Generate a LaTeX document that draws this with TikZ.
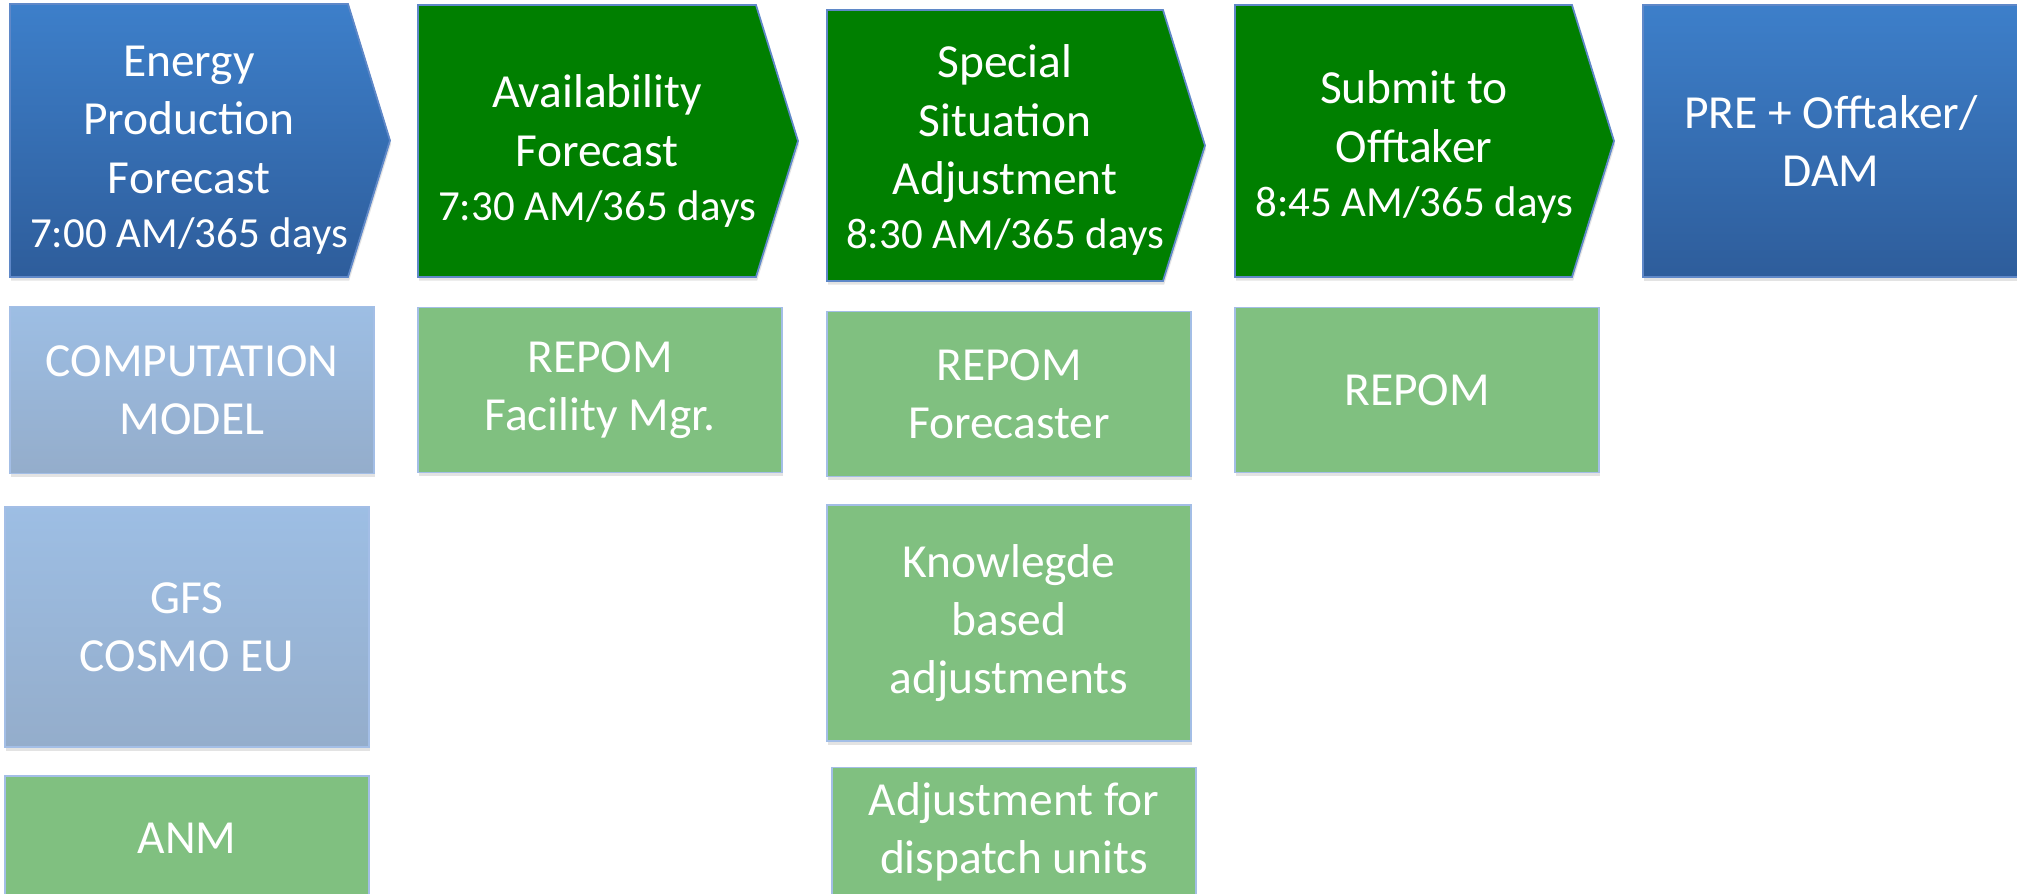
\documentclass[tikz,border=0pt]{standalone}
\usepackage{fontspec}
\setmainfont{Carlito}
\usepackage{tikz}
\usetikzlibrary{shadows}
\definecolor{Step Blue Top}{HTML}{3D7FCA}
\definecolor{Step Blue Bottom}{HTML}{2E5D9B}
\definecolor{Step Green}{HTML}{007F00}
\definecolor{Step Edge}{HTML}{5F88C8}
\definecolor{Role Blue Top}{HTML}{9DBEE4}
\definecolor{Role Blue Bottom}{HTML}{94ADCB}
\definecolor{Role Green}{HTML}{80C080}
\definecolor{Role Edge}{HTML}{A3BEE6}
\newcommand{\timeline}[1]{{\fontsize{12.2}{16.6}\selectfont #1}}

\begin{document}
\begin{tikzpicture}[x=0.01cm, y=-0.01cm,
    boxshadow/.style={drop shadow={shadow xshift=0.012cm, shadow yshift=-0.035cm, opacity=0.22}},
    stepblue/.style={boxshadow, top color=Step Blue Top, bottom color=Step Blue Bottom, draw=Step Edge, line width=0.5pt},
    stepgreen/.style={boxshadow, fill=Step Green, draw=Step Edge, line width=0.5pt},
    steptext/.style={text=white, align=center, font=\fontsize{13.5}{16.6}\selectfont},
    rolebox/.style={boxshadow, draw=Role Edge, line width=0.5pt, steptext, minimum width=3.64cm},
    roleblue/.style={rolebox, top color=Role Blue Top, bottom color=Role Blue Bottom},
    rolegreen/.style={rolebox, fill=Role Green}]
    \useasboundingbox (0,0) rectangle (2017,893);
    \fill[white] (0,0) rectangle (2017,893);

    % Process steps (arrow shaped)
    \foreach \l/\t/\r/\b/\look in {
        10/4/348/277/stepblue,
        418/5/756/277/stepgreen,
        827/10/1163/281/stepgreen,
        1235/5/1572/277/stepgreen} {
        \path[\look] (\l,\t) -- (\r,\t) -- ({\r+42},{(\t+\b)/2}) -- (\r,\b) -- (\l,\b) -- cycle;
    }
    % Last step runs off the page
    \path[stepblue] (1643,5) rectangle (2040,277);

    % Step labels
    \node[steptext] (energy) at (189,150) {Energy\\Production\\Forecast\\[-1.3pt]\timeline{7:00 AM/365 days}};
    \node[steptext] (availability) at (597,151) {Availability\\Forecast\\[-1.3pt]\timeline{7:30 AM/365 days}};
    \node[steptext] (special) at (1005,150) {Special\\Situation\\Adjustment\\[-1.3pt]\timeline{8:30 AM/365 days}};
    \node[steptext] (submit) at (1414,147) {Submit to\\Offtaker\\[-1.3pt]\timeline{8:45 AM/365 days}};
    \node[steptext] (market) at (1831,141) {PRE + Offtaker/\\DAM};

    % Who and what does each step
    \node[roleblue, minimum height=1.67cm] (model) at (192,390) {COMPUTATION\\MODEL};
    \node[roleblue, minimum height=2.40cm] (weather) at (187,627) {GFS\\COSMO EU};
    \node[rolegreen, minimum height=1.24cm] (anm) at (187,838) {ANM};
    \node[rolegreen, minimum height=1.65cm] (facility) at (600,390) {REPOM\\Facility Mgr.};
    \node[rolegreen, minimum height=1.65cm] (forecaster) at (1009,394) {REPOM\\Forecaster};
    \node[rolegreen, minimum height=2.36cm] (knowledge) at (1009,623) {Knowlegde\\based\\adjustments};
    \node[rolegreen, minimum height=1.29cm] (dispatch) at (1014,832) {Adjustment for\\dispatch units};
    \node[rolegreen, minimum height=1.65cm] (repom) at (1417,390) {REPOM};
\end{tikzpicture}
\end{document}
